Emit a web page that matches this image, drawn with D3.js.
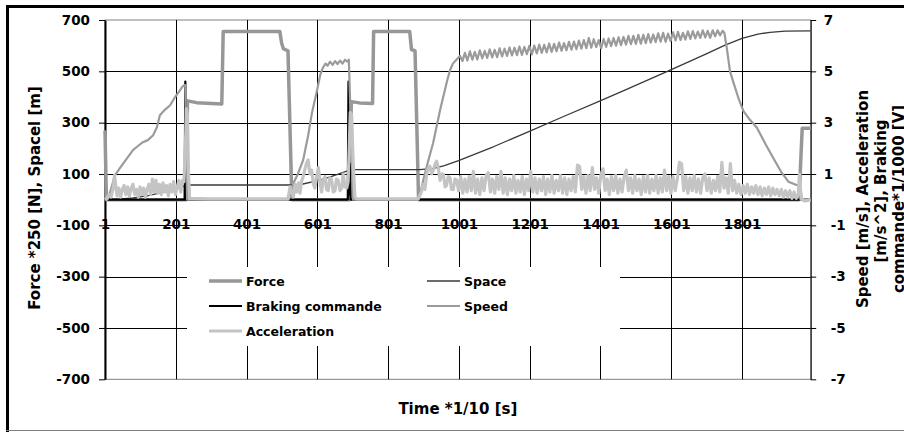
<!DOCTYPE html>
<html lang="en">
<head>
<meta charset="utf-8">
<title>Force, space, speed, acceleration</title>
<script src="https://d3js.org/d3.v7.min.js"></script>
<style>
  body { margin: 0; background: #fff; }
  svg text { font-family: "DejaVu Sans", Verdana, sans-serif; font-weight: bold; fill: #000; }
</style>
</head>
<body>
<svg id="chart" width="904" height="432"></svg>
<script>
// ---- data: [time index, value] ----
var timeTicks = [1, 201, 401, 601, 801, 1001, 1201, 1401, 1601, 1801];
var leftTicks = [-700, -500, -300, -100, 100, 300, 500, 700];
var rightTicks = [-7, -5, -3, -1, 1, 3, 5, 7];

// Force *250 [N]  (left axis)
var forceData = [[1,270],[5,0],[231,0],[234,385],[260,378],[331,373],[335,655],[495,655],[500,610],[505,588],
  [518,580],[529,0],[692,0],[697,382],[720,377],[757,375],[760,655],[862,655],[867,585],[877,580],[887,0],
  [1962,0],[1971,278],[1995,278]];

// Space [m]  (left axis)
var spaceData = [[1,0],[40,2],[80,7],[120,15],[160,27],[200,42],[233,57],[530,57],[560,61],[600,73],[640,90],
  [670,104],[690,114],[700,117],[890,117],[930,122],[960,133],[1000,152],[1100,207],[1200,266],[1300,326],
  [1400,385],[1470,427],[1598,505],[1700,568],[1753,602],[1801,628],[1846,645],[1880,652],[1923,657],[1995,658]];

// Braking commande *1/1000 [V]  (right axis)
var brakingData = [[1,0],[226,0],[228,4.6],[230,0],[687,0],[689,4.6],[691,0.2],[693,1.4],[695,0],[1995,0]];

// Speed [m/s]  (right axis)
var speedData = [[1,0],[8,0],[18,0.4],[29,0.95],[43,1.23],[60,1.55],[80,1.93],[95,2.1],[108,2.24],[122,2.32],
  [137,2.51],[148,2.83],[156,3.29],[170,3.5],[185,3.68],[199,4.0],[210,4.2],[219,4.39],[224,4.45],[228,4.46],
  [233,0],[519,0],[532,0.6],[546,1.0],[561,1.55],[575,2.5],[586,3.4],[600,4.25],[609,4.85],[617,5.15],
  [624,5.3],[630,5.22],[637,5.38],[644,5.25],[651,5.4],[658,5.28],[665,5.42],[672,5.3],[679,5.45],[686,5.38],
  [690,5.45],[696,2.7],[702,0],[886,0],[891,0.2],[900,0.75],[914,1.5],[928,2.2],[948,3.5],[968,4.65],
  [976,5.05],[984,5.3],[994,5.45],[1004,5.6],[1011,5.4],[1018,5.72],[1025,5.42],[1032,5.78],[1039,5.45],
  [1046,5.76],[1053,5.46],[1060,5.82],[1067,5.5],[1074,5.8],[1081,5.52],[1088,5.86],[1095,5.54],[1102,5.84],
  [1109,5.55],[1116,5.9],[1123,5.58],[1130,5.88],[1137,5.6],[1144,5.93],[1151,5.62],[1158,5.92],[1165,5.63],
  [1172,5.97],[1179,5.64],[1186,5.95],[1193,5.67],[1200,5.99],[1207,5.66],[1214,6.0],[1221,5.7],[1228,6.04],
  [1235,5.72],[1242,6.03],[1249,5.74],[1256,6.08],[1263,5.76],[1270,6.07],[1277,5.78],[1284,6.12],[1291,5.8],
  [1298,6.1],[1305,5.82],[1312,6.15],[1319,5.84],[1326,6.16],[1333,5.86],[1340,6.2],[1347,5.88],[1354,6.22],
  [1361,5.9],[1368,6.3],[1375,5.92],[1382,6.25],[1389,5.94],[1396,6.22],[1403,5.9],[1410,6.26],[1417,5.95],
  [1424,6.28],[1431,5.98],[1438,6.3],[1445,6.0],[1452,6.33],[1459,6.02],[1466,6.34],[1473,6.04],[1480,6.38],
  [1487,6.06],[1494,6.38],[1501,6.07],[1508,6.42],[1515,6.08],[1522,6.42],[1529,6.1],[1536,6.45],[1543,6.12],
  [1550,6.43],[1557,6.14],[1564,6.48],[1571,6.15],[1578,6.5],[1585,6.15],[1592,6.47],[1599,6.18],[1606,6.52],
  [1613,6.2],[1620,6.54],[1627,6.22],[1634,6.5],[1641,6.24],[1648,6.56],[1655,6.26],[1662,6.57],[1669,6.28],
  [1676,6.55],[1683,6.3],[1690,6.6],[1697,6.32],[1704,6.58],[1711,6.3],[1718,6.6],[1725,6.36],[1732,6.6],
  [1739,6.4],[1746,6.58],[1751,6.5],[1758,5.9],[1767,5.0],[1777,4.55],[1791,3.95],[1805,3.45],[1824,3.1],
  [1843,2.8],[1866,2.2],[1890,1.6],[1913,1.05],[1932,0.7],[1955,0.57],[1962,0.57],[1966,0],[1995,0]];

// Acceleration [m/s^2]  (right axis)
var accelData = [[1,0],[6,0.05],[12,0.2],[18,0.1],[24,0.45],[28,0.95],[31,0.6],[35,0.15],[40,0.45],[45,0.1],
  [50,0.4],[55,0.55],[60,0.2],[65,0.5],[70,0.15],[75,0.45],[80,0.6],[85,0.2],[90,0.4],[95,0.1],[100,0.5],
  [105,0.2],[110,0.45],[115,0.1],[120,0.4],[125,0.6],[130,0.2],[135,0.8],[140,0.3],[145,0.75],[150,0.25],
  [155,0.6],[160,0.2],[165,0.65],[170,0.3],[175,0.55],[180,0.15],[185,0.6],[190,0.3],[195,0.7],[200,0.2],
  [205,0.5],[210,0.75],[215,0.3],[220,0.75],[224,0.7],[228,2.0],[231,3.55],[234,3.3],[237,1.0],[240,0.05],
  [300,0.03],[400,0.03],[518,0.03],[524,0.5],[533,0.1],[538,0.6],[543,0.3],[548,0.65],[552,0.25],[556,0.7],
  [561,0.9],[566,1.2],[571,1.45],[575,1.55],[580,1.0],[585,1.15],[590,0.6],[594,0.45],[599,0.9],[604,1.25],
  [609,0.6],[613,0.3],[618,0.8],[623,0.9],[627,0.4],[632,0.35],[636,0.85],[641,0.8],[646,0.3],[651,0.35],
  [655,0.8],[660,0.75],[665,0.35],[670,0.45],[674,1.0],[679,0.5],[684,0.45],[688,0.7],[691,2.0],[694,3.4],
  [698,3.3],[702,1.5],[707,0.1],[712,0.03],[800,0.03],[886,0.03],[895,0.3],[900,0.6],[905,0.4],[910,1.0],
  [915,1.25],[919,1.3],[924,1.0],[929,1.15],[934,1.4],[938,1.5],[943,1.2],[948,0.75],[952,1.0],[957,1.0],
  [962,0.5],[966,0.55],[971,0.9],[976,0.85],[980,0.4],[985,0.4],[990,0.8],[995,0.75],
  [1000,0.35],[1006,0.9],[1012,0.25],[1018,0.8],[1024,0.3],[1030,0.9],[1036,0.35],[1042,1.1],[1048,0.25],
  [1054,0.8],[1060,0.2],[1066,0.85],[1072,0.35],[1078,0.95],[1084,1.05],[1090,0.3],[1096,0.8],[1102,0.25],
  [1108,0.9],[1114,0.4],[1120,1.1],[1126,0.25],[1132,0.85],[1138,0.2],[1144,0.8],[1150,0.35],[1156,0.95],
  [1162,0.25],[1168,0.75],[1174,0.3],[1180,0.9],[1186,0.2],[1192,0.8],[1198,0.35],[1204,1.1],[1210,0.3],
  [1216,0.85],[1222,0.25],[1228,0.8],[1234,0.35],[1240,0.9],[1246,0.2],[1252,0.8],[1258,0.3],[1264,0.95],
  [1270,0.25],[1276,0.75],[1282,0.35],[1288,0.95],[1294,0.25],[1300,0.85],[1306,0.2],[1312,0.8],[1318,0.35],
  [1324,0.9],[1330,0.3],[1336,1.35],[1342,1.3],[1348,0.4],[1354,0.9],[1360,0.25],[1366,0.95],[1372,0.35],
  [1378,1.25],[1384,0.4],[1390,0.85],[1396,0.25],[1402,0.95],[1408,1.2],[1414,0.35],[1420,0.8],[1426,0.2],
  [1432,0.9],[1438,0.35],[1444,0.95],[1450,0.25],[1456,0.8],[1462,0.3],[1468,0.9],[1474,1.15],[1480,0.35],
  [1486,0.85],[1492,0.25],[1498,0.95],[1504,0.35],[1510,0.8],[1516,0.2],[1522,0.9],[1528,0.3],[1534,0.95],
  [1540,0.25],[1546,0.8],[1552,0.35],[1558,0.95],[1564,0.25],[1570,0.85],[1576,0.3],[1582,1.15],[1588,0.35],
  [1594,0.9],[1600,0.25],[1606,0.9],[1612,0.35],[1618,0.8],[1624,1.45],[1630,1.4],[1636,0.35],[1642,0.9],
  [1648,0.25],[1654,0.85],[1660,0.35],[1666,0.95],[1672,0.3],[1678,0.8],[1684,0.25],[1690,0.85],[1696,1.0],
  [1702,0.35],[1708,0.85],[1714,0.25],[1720,0.75],[1726,0.35],[1732,0.9],[1738,0.3],[1744,1.45],[1750,0.45],
  [1756,0.85],[1762,0.25],[1768,1.4],[1774,0.35],[1780,0.75],[1786,0.25],[1792,0.6],[1798,0.2],[1804,0.55],
  [1810,0.25],[1816,0.6],[1822,0.2],[1828,0.5],[1834,0.25],[1840,0.55],[1846,0.2],[1852,0.5],[1858,0.15],
  [1864,0.45],[1870,0.2],[1876,0.5],[1882,0.15],[1888,0.45],[1894,0.2],[1900,0.4],[1906,0.15],[1912,0.4],
  [1918,0.1],[1924,0.35],[1930,0.1],[1936,0.35],[1942,0.05],[1948,0.3],[1954,0.05],[1960,0.2],[1963,1.0],
  [1966,0.4],[1970,0],[1980,-0.05],[1995,0]];

// series in legend order (Excel fills the legend row by row)
var series = [
  {name: "Force", data: forceData, axis: "left", color: "#979797", width: 3.5},
  {name: "Space", data: spaceData, axis: "left", color: "#3a3a3a", width: 1.3},
  {name: "Braking commande", data: brakingData, axis: "right", color: "#000", width: 2.2},
  {name: "Speed", data: speedData, axis: "right", color: "#9b9b9b", width: 2.2},
  {name: "Acceleration", data: accelData, axis: "right", color: "#c4c4c4", width: 3.2}
];

var svg = d3.select("#chart");
var plot = {left: 105, right: 810.7, top: 20, bottom: 379.3};

var x = d3.scaleLinear().domain([1, 1995]).range([plot.left, plot.right]);
var yLeft = d3.scaleLinear().domain([-700, 700]).range([plot.bottom, plot.top]);
var yRight = d3.scaleLinear().domain([-7, 7]).range([plot.bottom, plot.top]);
var plain = function(d) { return String(d); };   // "-100", "1001": no grouping, ascii minus

// outer chart frame
svg.append("line").attr("x1", 6).attr("x2", 904).attr("y1", 6.5).attr("y2", 6.5)
  .attr("stroke", "#000").attr("stroke-width", 3);
svg.append("line").attr("x1", 7.5).attr("x2", 7.5).attr("y1", 5).attr("y2", 432)
  .attr("stroke", "#000").attr("stroke-width", 3);
svg.append("line").attr("x1", 6).attr("x2", 904).attr("y1", 430.5).attr("y2", 430.5)
  .attr("stroke", "#808080").attr("stroke-width", 1.2);

// plot area border
svg.append("rect")
  .attr("x", plot.left).attr("y", plot.top)
  .attr("width", plot.right - plot.left).attr("height", plot.bottom - plot.top)
  .attr("fill", "none").attr("stroke", "#808080").attr("stroke-width", 1);

// gridlines
var grid = svg.append("g").attr("stroke", "#000").attr("stroke-width", 1);
grid.selectAll(".hgrid")
  .data(leftTicks.filter(function(d) { return Math.abs(d) < 700; }))
  .enter().append("line")
  .attr("x1", plot.left).attr("x2", plot.right)
  .attr("y1", function(d) { return Math.round(yLeft(d)) + 0.5; })
  .attr("y2", function(d) { return Math.round(yLeft(d)) + 0.5; });
grid.selectAll(".vgrid")
  .data(timeTicks.slice(1))
  .enter().append("line")
  .attr("y1", plot.top).attr("y2", plot.bottom)
  .attr("x1", function(d) { return Math.round(x(d)) + 0.5; })
  .attr("x2", function(d) { return Math.round(x(d)) + 0.5; });

// category axis line at zero
svg.append("line").attr("x1", plot.left).attr("x2", plot.right)
  .attr("y1", yLeft(0)).attr("y2", yLeft(0)).attr("stroke", "#000");

// left axis
var gLeft = svg.append("g").attr("transform", "translate(" + plot.left + ",0)")
  .call(d3.axisLeft(yLeft).tickValues(leftTicks).tickFormat(plain)
    .tickSize(6).tickPadding(9).tickSizeOuter(0));
gLeft.select(".domain").attr("stroke", "#000").attr("stroke-width", 2);
gLeft.selectAll("text").style("font-size", "13.5px");

// right axis
var gRight = svg.append("g").attr("transform", "translate(" + plot.right + ",0)")
  .call(d3.axisRight(yRight).tickValues(rightTicks).tickFormat(plain)
    .tickSize(5.5).tickPadding(1).tickSizeOuter(0));
gRight.select(".domain").attr("stroke", "#000").attr("stroke-width", 1);
gRight.selectAll("text").style("font-size", "13.5px")
  .attr("dx", function(d) { return d < 0 ? 13.5 : 6.5; });

// time labels sit on the -100 line
var gBottom = svg.append("g").attr("transform", "translate(0," + yLeft(-100) + ")")
  .call(d3.axisBottom(x).tickValues(timeTicks).tickFormat(plain).tickSize(0));
gBottom.select(".domain").remove();
gBottom.selectAll("text").style("font-size", "13.5px").attr("dy", null).attr("y", 3.5);

// series
var drawn = svg.append("g").attr("fill", "none").attr("stroke-linejoin", "round");
series.forEach(function(s) {
  var yScale = s.axis === "left" ? yLeft : yRight;
  var line = d3.line()
    .x(function(d) { return x(d[0]); })
    .y(function(d) { return yScale(d[1]); });
  drawn.append("path")
    .datum(s.data)
    .attr("d", line)
    .attr("stroke", s.color)
    .attr("stroke-width", s.width);
});

// legend
svg.append("rect").attr("x", 187).attr("y", 267).attr("width", 433).attr("height", 79).attr("fill", "#fff");
var legend = svg.append("g");
series.forEach(function(s, i) {
  var col = i % 2, row = Math.floor(i / 2);
  var lx = col === 0 ? 209 : 427;
  var ly = 281 + row * 25;
  legend.append("line")
    .attr("x1", lx).attr("x2", lx + 33).attr("y1", ly).attr("y2", ly)
    .attr("stroke", s.color).attr("stroke-width", s.width);
  legend.append("text")
    .attr("x", lx + 37).attr("y", ly + 4.5)
    .style("font-size", "12.5px")
    .text(s.name);
});

// axis titles
svg.append("text")
  .attr("x", (plot.left + plot.right) / 2).attr("y", 413.5)
  .attr("text-anchor", "middle").style("font-size", "15px")
  .text("Time *1/10 [s]");

svg.append("text")
  .attr("transform", "translate(39.5,198) rotate(-90)")
  .attr("text-anchor", "middle").style("font-size", "15px")
  .text("Force *250 [N], Spacel [m]");

var rightTitle = ["Speed [m/s], Acceleration", "[m/s^2], Braking", "commande*1/1000 [V]"];
rightTitle.forEach(function(t, i) {
  svg.append("text")
    .attr("transform", "translate(" + (868 + i * 18) + "," + (i === 1 ? 191 : 199) + ") rotate(-90)")
    .attr("text-anchor", "middle").style("font-size", "15px")
    .text(t);
});
</script>
</body>
</html>
